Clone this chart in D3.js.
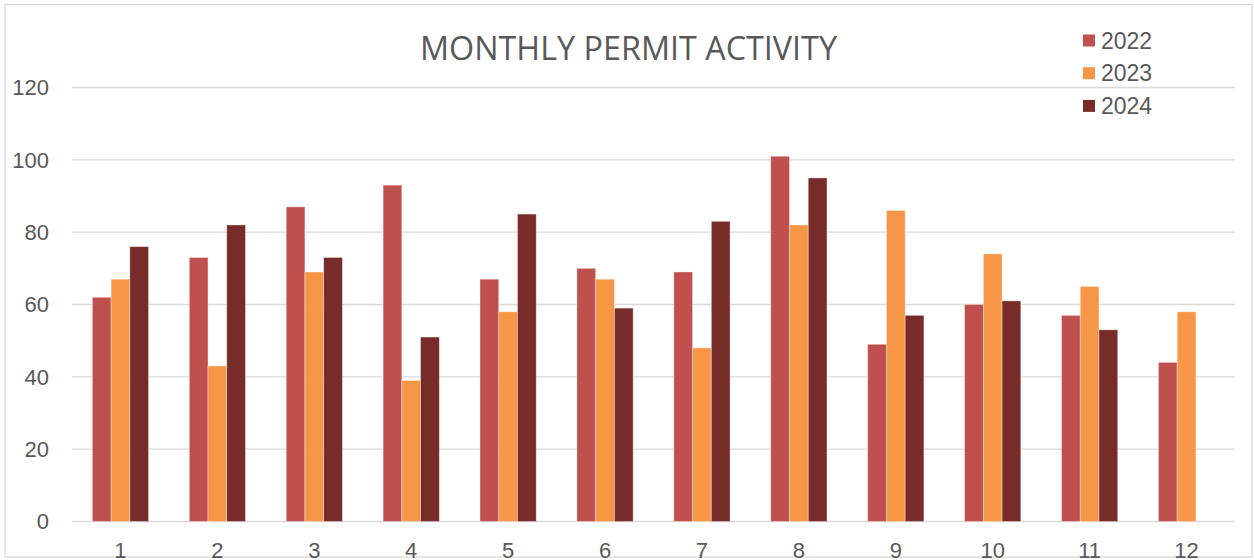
<!DOCTYPE html>
<html>
<head>
<meta charset="utf-8">
<script src="https://cdn.jsdelivr.net/npm/d3@7"></script>
<style>
  html, body { margin: 0; padding: 0; background: #fff; }
  svg { display: block; }
</style>
</head>
<body>
<div id="chart"></div>
<script>
const months = ["1", "2", "3", "4", "5", "6", "7", "8", "9", "10", "11", "12"];
const series = ["2022", "2023", "2024"];
const values2022 = [62, 73, 87, 93, 67, 70, 69, 101, 49, 60, 57, 44];
const values2023 = [67, 43, 69, 39, 58, 67, 48, 82, 86, 74, 65, 58];
const values2024 = [76, 82, 73, 51, 85, 59, 83, 95, 57, 61, 53, null];
const yTicks = [0, 20, 40, 60, 80, 100, 120];
const colors = ["#C0504D", "#F79646", "#772C2A"];

const width = 1254;
const height = 560;
const plotLeft = 72, plotRight = 1235, plotTop = 87.5, plotBottom = 521.5;

const svg = d3.select("#chart")
              .append("svg")
              .attr("width", width)
              .attr("height", height);

// chart border
svg.append("rect")
   .attr("x", 5).attr("y", 4.5)
   .attr("width", 1247).attr("height", 552.5)
   .attr("fill", "#fff")
   .attr("stroke", "#d9d9d9")
   .attr("stroke-width", 1.3);

const x = d3.scaleBand()
            .domain(months)
            .range([plotLeft, plotRight])
            .paddingInner(0.42)
            .paddingOuter(0.21);

const xSeries = d3.scaleBand()
                  .domain(series)
                  .range([0, x.bandwidth()]);

const y = d3.scaleLinear()
            .domain([0, 120])
            .range([plotBottom, plotTop]);

// gridlines
svg.append("g")
   .selectAll("line")
   .data(yTicks)
   .enter()
   .append("line")
   .attr("x1", plotLeft)
   .attr("x2", plotRight)
   .attr("y1", d => y(d))
   .attr("y2", d => y(d))
   .attr("stroke", "#d9d9d9")
   .attr("stroke-width", 1.4);

// y labels
svg.append("g")
   .selectAll("text")
   .data(yTicks)
   .enter()
   .append("text")
   .attr("x", 49)
   .attr("y", d => y(d))
   .attr("dy", "0.36em")
   .attr("text-anchor", "end")
   .attr("font-family", "Liberation Sans, Arial, sans-serif")
   .attr("font-size", 22)
   .attr("fill", "#595959")
   .text(d => d);

// bars
const rows = months.map((m, i) => ({
  month: m,
  vals: [values2022[i], values2023[i], values2024[i]]
}));

const groups = svg.append("g")
   .selectAll("g")
   .data(rows)
   .enter()
   .append("g")
   .attr("transform", d => `translate(${x(d.month)},0)`);

groups.selectAll("rect")
      .data(d => d.vals.map((v, j) => ({ key: series[j], value: v, color: colors[j] })).filter(e => e.value != null))
      .enter()
      .append("rect")
      .attr("x", d => xSeries(d.key))
      .attr("y", d => y(d.value))
      .attr("width", xSeries.bandwidth())
      .attr("height", d => y(0) - y(d.value))
      .attr("fill", d => d.color)
      .attr("stroke", "rgba(255,255,255,0.45)")
      .attr("stroke-width", 0.8);

// x labels
svg.append("g")
   .selectAll("text")
   .data(months)
   .enter()
   .append("text")
   .attr("x", d => x(d) + x.bandwidth() / 2)
   .attr("y", 558)
   .attr("text-anchor", "middle")
   .attr("font-family", "Liberation Sans, Arial, sans-serif")
   .attr("font-size", 22)
   .attr("fill", "#595959")
   .text(d => d);

// title
svg.append("text")
   .attr("x", 628.5)
   .attr("y", 60)
   .attr("text-anchor", "middle")
   .attr("font-family", "Open Sans, sans-serif")
   .attr("font-size", 33)
   .attr("textLength", 417)
   .attr("lengthAdjust", "spacingAndGlyphs")
   .attr("fill", "#595959")
   .text("MONTHLY PERMIT ACTIVITY");

// legend
const legend = svg.append("g")
   .selectAll("g")
   .data(series)
   .enter()
   .append("g")
   .attr("transform", (d, i) => `translate(1083,${34.5 + i * 32.7})`);

legend.append("rect")
      .attr("width", 12)
      .attr("height", 12)
      .attr("fill", (d, i) => colors[i]);

legend.append("text")
      .attr("x", 18)
      .attr("y", 6)
      .attr("dy", "0.36em")
      .attr("font-family", "Liberation Sans, Arial, sans-serif")
      .attr("font-size", 23)
      .attr("fill", "#595959")
      .text(d => d);
</script>
</body>
</html>
